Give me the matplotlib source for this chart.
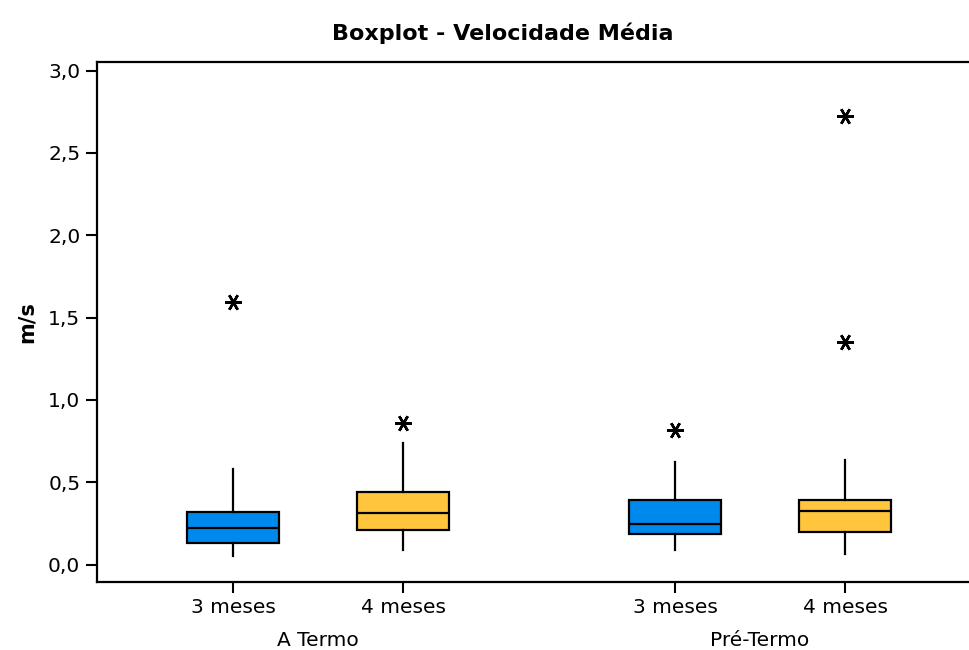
import matplotlib
matplotlib.use("Agg")
import matplotlib.pyplot as plt

# dados (m/s)
grupos = ["A Termo", "Pré-Termo"]
rotulos = ["3 meses", "4 meses", "3 meses", "4 meses"]
q1 = [0.132, 0.211, 0.187, 0.199]
mediana = [0.222, 0.311, 0.244, 0.323]
q3 = [0.321, 0.444, 0.390, 0.390]
whis_min = [0.053, 0.088, 0.088, 0.064]
whis_max = [0.578, 0.736, 0.622, 0.634]
outliers = [[1.592], [0.861], [0.817], [1.351, 2.723]]
cores = ["#0089EC", "#FFC63D", "#0089EC", "#FFC63D"]

posicoes = [1, 2, 3.6, 4.6]

stats = []
for i in range(4):
	stats.append({"med": mediana[i], "q1": q1[i], "q3": q3[i],
		"whislo": whis_min[i], "whishi": whis_max[i], "fliers": outliers[i]})

plt.rcParams['font.family'] = ['DejaVu Sans']
fig = plt.figure(figsize=(9.7, 6.5), dpi=100)
ax = fig.add_axes([0.1, 0.105, 0.9, 0.8])

bp = ax.bxp(stats, positions=posicoes, widths=0.54, patch_artist=True, showcaps=False,
	boxprops=dict(linewidth=1.6, edgecolor="black"),
	whiskerprops=dict(linewidth=1.6, color="black"),
	medianprops=dict(linewidth=1.6, color="black"),
	flierprops=dict(marker=(6, 2, 90), markersize=12, markeredgecolor="black", markeredgewidth=1.8, linestyle="none"))
for patch, c in zip(bp["boxes"], cores):
	patch.set_facecolor(c)

ax.set_xlim(0.2, 5.335)
ax.set_ylim(-0.104, 3.054)
ax.set_yticks([0, 0.5, 1.0, 1.5, 2.0, 2.5, 3.0])
ax.set_yticklabels(["0,0", "0,5", "1,0", "1,5", "2,0", "2,5", "3,0"], fontsize=14.5)
ax.set_xticks(posicoes)
ax.set_xticklabels(rotulos, fontsize=14.5)
ax.tick_params(axis="both", length=8, width=1.5, direction="out", pad=4)
ax.spines["right"].set_visible(False)
for s in ["left", "top", "bottom"]:
	ax.spines[s].set_linewidth(1.6)

# rotulos dos grupos, abaixo dos ticks
trans = ax.get_xaxis_transform()
ax.text((posicoes[0] + posicoes[1]) / 2, -0.113, grupos[0], ha="center", va="center", fontsize=14.5, transform=trans)
ax.text((posicoes[2] + posicoes[3]) / 2, -0.113, grupos[1], ha="center", va="center", fontsize=14.5, transform=trans)

ax.set_ylabel("m/s", fontsize=15, fontweight="bold", labelpad=8)
fig.text(503 / 970, 1 - 33 / 650, "Boxplot - Velocidade Média", ha="center", va="center",
	fontsize=16, fontweight="bold")

fig.savefig("out.png", dpi=100)
